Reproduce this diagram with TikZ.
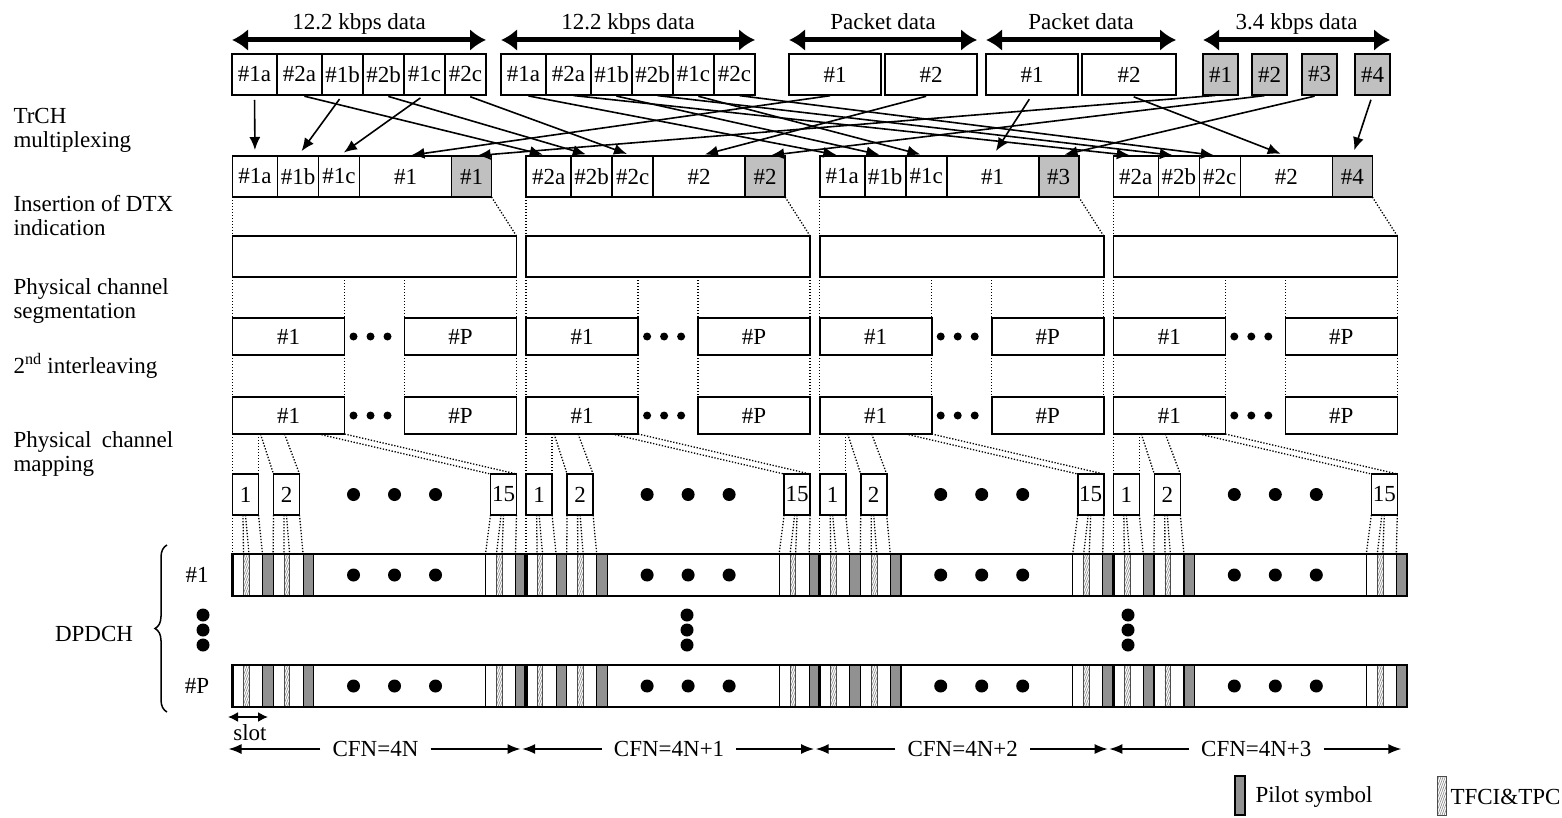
\documentclass[tikz,border=0pt]{standalone}
\usepackage{fontspec}
\setmainfont{Liberation Serif}
\usetikzlibrary{arrows.meta,patterns.meta,decorations.pathreplacing,calc}
\definecolor{Pilot}{RGB}{145,145,145}
\definecolor{Fixed}{RGB}{192,192,192}

\begin{document}
\begin{tikzpicture}[x=1pt,y=-1pt,
  every node/.style={font=\fontsize{23}{24}\selectfont},
  cell/.style={draw,line width=1.6pt,inner sep=0pt,outer sep=0pt,minimum height=41pt,anchor=west},
  grey/.style={cell,fill=Fixed},
  proj/.style={line width=1.3pt,dash pattern=on 1.3pt off 1.7pt},
  map/.style={line width=1.6pt,-{Latex[length=13pt,width=11pt]},shorten <=5pt,shorten >=6pt},
  fat/.style={line width=5pt,{Latex[length=16pt,width=22pt]}-{Latex[length=16pt,width=22pt]}},
  tag/.style={midway,above=1pt,text height=15pt,text depth=4pt},
  span/.style={line width=1.6pt,-{Latex[length=13pt,width=10pt]}},
  hatch/.style={draw=black!70,line width=0.6pt,pattern={Lines[angle=70,distance=2pt,line width=0.7pt]},pattern color=black!45},
  pilot/.style={draw,line width=1.2pt,fill=Pilot},
  dot/.style={fill=black}]
\useasboundingbox (0,0) rectangle (1562,818);

% transport channels
\foreach \p/\x in {a/232,b/501}{
  \node[cell,minimum width=45pt] (\p1a) at (\x,74.5) {\#1a};
  \node[cell,minimum width=45pt] (\p2a) at (\p1a.east) {\#2a};
  \node[cell,minimum width=41pt] (\p1b) at (\p2a.east) {\#1b};
  \node[cell,minimum width=41pt] (\p2b) at (\p1b.east) {\#2b};
  \node[cell,minimum width=41pt] (\p1c) at (\p2b.east) {\#1c};
  \node[cell,minimum width=41pt] (\p2c) at (\p1c.east) {\#2c};
  \draw[fat] ([yshift=14pt]\p1a.north west) -- ([yshift=14pt]\p2c.north east) node[tag] {12.2 kbps data};
}
\node[cell,minimum width=92pt] (pa1) at (789,74.5) {\#1};
\node[cell,minimum width=92pt] (pa2) at (885,74.5) {\#2};
\node[cell,minimum width=92pt] (pb1) at (986,74.5) {\#1};
\node[cell,minimum width=94pt] (pb2) at (1082,74.5) {\#2};
\draw[fat] ([yshift=14pt]pa1.north west) -- ([yshift=14pt]pa2.north east) node[tag] {Packet data};
\draw[fat] ([yshift=14pt]pb1.north west) -- ([yshift=14pt]pb2.north east) node[tag] {Packet data};
\foreach \k/\x in {1/1203,2/1252,3/1302,4/1355}
  \node[grey,minimum width=35pt] (s\k) at (\x,74.5) {\#\k};
\draw[fat] ([yshift=14pt]s1.north west) -- ([yshift=14pt]s4.north east) node[tag] {3.4 kbps data};

% radio frames
\foreach \g/\n/\k/\c in {0/1/1/4N,1/2/2/4N+1,2/1/3/4N+2,3/2/4/4N+3}{
  \pgfmathsetmacro\X{232.5+293.6*\g}
  \node[cell,minimum width=45pt] (m\g-a) at (\X,176.5) {\#\n a};
  \node[cell,minimum width=41pt] (m\g-b) at (m\g-a.east) {\#\n b};
  \node[cell,minimum width=41pt] (m\g-c) at (m\g-b.east) {\#\n c};
  \node[cell,minimum width=92pt] (m\g-d) at (m\g-c.east) {\#\n};
  \node[grey,minimum width=40pt] (m\g-e) at (m\g-d.east) {\#\k};
  \node[cell,minimum width=284pt,anchor=north west] (d\g) at (\X,236) {};
  \node[cell,minimum width=112pt,minimum height=37pt,anchor=north west] (s\g-1) at (\X,318) {\#1};
  \node[cell,minimum width=112pt,minimum height=37pt,anchor=north west] (s\g-P) at (\X+172,318) {\#P};
  \node[cell,minimum width=112pt,minimum height=37pt,anchor=north west] (i\g-1) at (\X,397) {\#1};
  \node[cell,minimum width=112pt,minimum height=37pt,anchor=north west] (i\g-P) at (\X+172,397) {\#P};
  \node[cell,minimum width=26pt,anchor=north west] (k\g-1) at (\X,474) {1};
  \node[cell,minimum width=26pt,anchor=north west] (k\g-2) at (\X+41,474) {2};
  \node[cell,minimum width=26pt,anchor=north west] (k\g-3) at (\X+258,474) {15};
  \foreach \d in {0,17,34}{
    \fill[dot] (\X+121+\d,336.5) circle (4pt);
    \fill[dot] (\X+121+\d,415.5) circle (4pt);
  }
  \foreach \d in {0,41,82}
    \fill[dot] (\X+121+\d,494.5) circle (6.5pt);
  % projections
  \draw[proj] (m\g-a.south west) -- (d\g.north west);
  \draw[proj] (m\g-e.south east) -- (d\g.north east);
  \draw[proj] (d\g.south west) -- (s\g-1.north west);
  \draw[proj] (s\g-1.north east |- d\g.south) -- (s\g-1.north east);
  \draw[proj] (s\g-P.north west |- d\g.south) -- (s\g-P.north west);
  \draw[proj] (d\g.south east) -- (s\g-P.north east);
  \draw[proj] (s\g-1.south west) -- (i\g-1.north west);
  \draw[proj] (s\g-1.south east) -- (i\g-1.north east);
  \draw[proj] (s\g-P.south west) -- (i\g-P.north west);
  \draw[proj] (s\g-P.south east) -- (i\g-P.north east);
  \draw[proj] (i\g-1.south west) -- (k\g-1.north west);
  \draw[proj] ([xshift=26pt]i\g-1.south west) -- (k\g-1.north east);
  \draw[proj] ([xshift=28pt]i\g-1.south west) -- (k\g-2.north west);
  \draw[proj] ([xshift=52pt]i\g-1.south west) -- (k\g-2.north east);
  \draw[proj] ([xshift=86pt]i\g-1.south west) -- (k\g-3.north west);
  \draw[proj] (i\g-1.south east) -- (k\g-3.north east);
  \foreach \j/\o in {1/0,2/40.6,3/253}{
    \coordinate (t\g-\j) at (\X+\o,554);
    \draw[proj] (k\g-\j.south west) -- (t\g-\j);
    \draw[proj] ([xshift=10.5pt]k\g-\j.south west) -- ([xshift=11pt]t\g-\j);
    \draw[proj] ([xshift=13pt]k\g-\j.south west) -- ([xshift=16.5pt]t\g-\j);
    \draw[proj] (k\g-\j.south east) -- ([xshift=30pt]t\g-\j);
  }
  % DPDCH slots
  \foreach \y in {554,665}{
    \foreach \o in {0,40.6,253}{
      \draw[hatch] (\X+\o+11,\y) rectangle (\X+\o+16.5,\y+42);
      \draw[pilot] (\X+\o+30,\y) rectangle (\X+\o+40.6,\y+42);
      \draw[line width=1.2pt] (\X+\o,\y) -- ++(0,42);
    }
    \foreach \d in {0,41,82}
      \fill[dot] (\X+121+\d,\y+21) circle (6.5pt);
  }
  % CFN
  \node[inner xsep=12pt] (c\g) at (\X+143,749) {CFN=\c};
  \coordinate (cl\g) at (\X-4,749);
  \coordinate (cr\g) at (\X+288,749);
  \draw[span] (c\g) -- (cl\g);
  \draw[span] (c\g) -- (cr\g);
}

\foreach \s/\t in {a1a/m0-a,a2a/m1-a,a1b/m0-b,a2b/m1-b,a1c/m0-c,a2c/m1-c,
                   b1a/m2-a,b2a/m3-a,b1b/m2-b,b2b/m3-b,b1c/m2-c,b2c/m3-c,
                   pa1/m0-d,pa2/m1-d,pb1/m2-d,pb2/m3-d,
                   s1/m0-e,s2/m1-e,s3/m2-e,s4/m3-e}
  \draw[map] (\s.south) -- (\t.north);

\foreach \y in {554,665}{
  \draw[line width=2.5pt] (232.5,\y) rectangle (1407,\y+42);
  \foreach \g in {1,2,3}
    \draw[line width=3.5pt] (232.5+293.6*\g,\y) -- ++(0,42);
}
\foreach \x in {203,687,1128}
  \foreach \y in {615,630,645}
    \fill[dot] (\x,\y) circle (6.5pt);

% step labels
\node[anchor=west,align=left] (lmux) at (10,130.5) {TrCH\\multiplexing};
\node[anchor=west,align=left] (ldtx) at (10,215.5) {Insertion of DTX\\indication};
\node[anchor=west,align=left] (lseg) at (10,301) {Physical channel\\segmentation};
\node[anchor=west,align=left] (lint) at (10,366) {2\textsuperscript{nd} interleaving};
\node[anchor=west,align=left] (lmap) at (10,454) {Physical\hspace{0.45em}channel\\mapping};
\node (dpdch) at (94,634) {DPDCH};
\node (ch1) at (197,575) {\#1};
\node (chP) at (197,686) {\#P};
\draw[line width=1.5pt,decorate,decoration={brace,amplitude=12pt}] (167,712) -- (167,545);

% slot and legend
\coordinate (sa) at (228,717);
\coordinate (sb) at (268,717);
\draw[line width=1.6pt,{Latex[length=10pt,width=10pt]}-{Latex[length=10pt,width=10pt]}] (sa) -- (sb);
\node (slot) at (250,733) {slot};
\draw[pilot] (1235,776) rectangle (1245,815);
\node[anchor=west] (lpilot) at (1252,797) {Pilot symbol};
\draw[hatch] (1437,776) rectangle (1446,815);
\node[anchor=west] (ltfci) at (1447,797) {TFCI\&TPC};
\end{tikzpicture}
\end{document}
